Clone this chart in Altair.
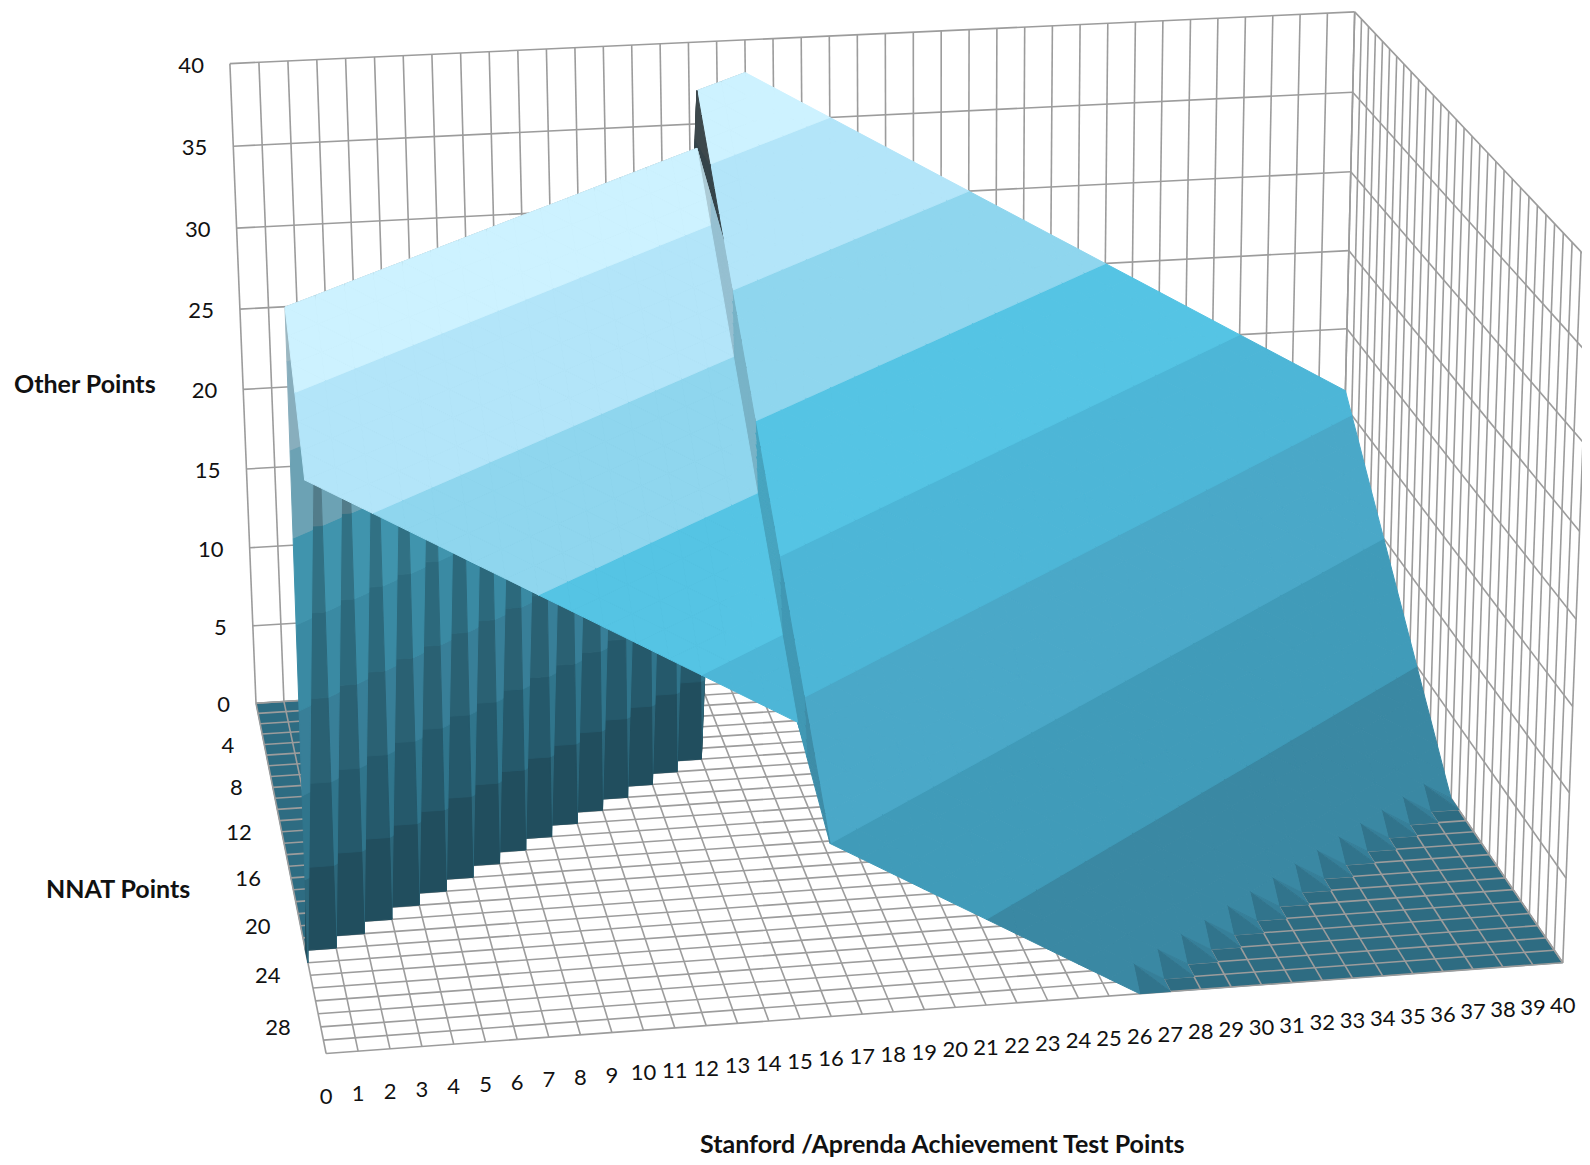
import altair as alt
import numpy as np

# "Other Points": one row per NNAT point (0..30), one column per Stanford point (0..40)
Z_ROWS = [
 [0]*16 + [0,0,38,37,36,35,34,33,32,31,30,29,28,27,26,25,24,23,22,21,20,19,18,17,16],
 [0]*16 + [0,38,37,36,35,34,33,32,31,30,29,28,27,26,25,24,23,22,21,20,19,18,17,16,15],
 [0]*16 + [38,37,36,35,34,33,32,31,30,29,28,27,26,25,24,23,22,21,20,19,18,17,16,15,14],
 [0]*16 + [37,36,35,34,33,32,31,30,29,28,27,26,25,24,23,22,21,20,19,18,17,16,15,14,13],
 [0]*16 + [36,35,34,33,32,31,30,29,28,27,26,25,24,23,22,21,20,19,18,17,16,15,14,13,12],
 [0]*16 + [35,34,33,32,31,30,29,28,27,26,25,24,23,22,21,20,19,18,17,16,15,14,13,12,11],
 [0]*16 + [34,33,32,31,30,29,28,27,26,25,24,23,22,21,20,19,18,17,16,15,14,13,12,11,10],
 [0]*16 + [33,32,31,30,29,28,27,26,25,24,23,22,21,20,19,18,17,16,15,14,13,12,11,10,9],
 [0]*16 + [32,31,30,29,28,27,26,25,24,23,22,21,20,19,18,17,16,15,14,13,12,11,10,9,8],
 [0]*15 + [38] + [31,30,29,28,27,26,25,24,23,22,21,20,19,18,17,16,15,14,13,12,11,10,9,8,7],
 [0]*14 + [38,37] + [30,29,28,27,26,25,24,23,22,21,20,19,18,17,16,15,14,13,12,11,10,9,8,7,6],
 [0]*13 + [38,37,36] + [29,28,27,26,25,24,23,22,21,20,19,18,17,16,15,14,13,12,11,10,9,8,7,6,5],
 [0]*12 + [38,37,36,35] + [28,27,26,25,24,23,22,21,20,19,18,17,16,15,14,13,12,11,10,9,8,7,6,5,4],
 [0]*11 + [38,37,36,35,34] + [27,26,25,24,23,22,21,20,19,18,17,16,15,14,13,12,11,10,9,8,7,6,5,4,3],
 [0]*10 + [38,37,36,35,34,33] + [26,25,24,23,22,21,20,19,18,17,16,15,14,13,12,11,10,9,8,7,6,5,4,3,2],
 [0]*9 + [38,37,36,35,34,33,32] + [25,24,23,22,21,20,19,18,17,16,15,14,13,12,11,10,9,8,7,6,5,4,3,2,1],
 [0]*8 + [38,37,36,35,34,33,32,31] + [24,23,22,21,20,19,18,17,16,15,14,13,12,11,10,9,8,7,6,5,4,3,2,1,0],
 [0]*7 + [38,37,36,35,34,33,32,31,30] + [23,22,21,20,19,18,17,16,15,14,13,12,11,10,9,8,7,6,5,4,3,2,1,0,0],
 [0]*6 + [38,37,36,35,34,33,32,31,30,29] + [22,21,20,19,18,17,16,15,14,13,12,11,10,9,8,7,6,5,4,3,2,1,0,0,0],
 [0]*5 + [38,37,36,35,34,33,32,31,30,29,28] + [21,20,19,18,17,16,15,14,13,12,11,10,9,8,7,6,5,4,3,2,1,0,0,0,0],
 [0]*4 + [38,37,36,35,34,33,32,31,30,29,28,27] + [20,19,18,17,16,15,14,13,12,11,10,9,8,7,6,5,4,3,2,1,0,0,0,0,0],
 [0]*3 + [38,37,36,35,34,33,32,31,30,29,28,27,26] + [19,18,17,16,15,14,13,12,11,10,9,8,7,6,5,4,3,2,1,0,0,0,0,0,0],
 [0]*2 + [38,37,36,35,34,33,32,31,30,29,28,27,26,25] + [18,17,16,15,14,13,12,11,10,9,8,7,6,5,4,3,2,1,0,0,0,0,0,0,0],
 [0]*1 + [38,37,36,35,34,33,32,31,30,29,28,27,26,25,24] + [17,16,15,14,13,12,11,10,9,8,7,6,5,4,3,2,1,0,0,0,0,0,0,0,0],
 [38,37,36,35,34,33,32,31,30,29,28,27,26,25,24,23] + [16,15,14,13,12,11,10,9,8,7,6,5,4,3,2,1,0,0,0,0,0,0,0,0,0],
 [37,36,35,34,33,32,31,30,29,28,27,26,25,24,23,22] + [15,14,13,12,11,10,9,8,7,6,5,4,3,2,1,0,0,0,0,0,0,0,0,0,0],
 [36,35,34,33,32,31,30,29,28,27,26,25,24,23,22,21] + [14,13,12,11,10,9,8,7,6,5,4,3,2,1,0,0,0,0,0,0,0,0,0,0,0],
 [35,34,33,32,31,30,29,28,27,26,25,24,23,22,21,20] + [13,12,11,10,9,8,7,6,5,4,3,2,1,0,0,0,0,0,0,0,0,0,0,0,0],
 [34,33,32,31,30,29,28,27,26,25,24,23,22,21,20,19] + [12,11,10,9,8,7,6,5,4,3,2,1,0,0,0,0,0,0,0,0,0,0,0,0,0],
 [33,32,31,30,29,28,27,26,25,24,23,22,21,20,19,18] + [11,10,9,8,7,6,5,4,3,2,1,0,0,0,0,0,0,0,0,0,0,0,0,0,0],
 [32,31,30,29,28,27,26,25,24,23,22,21,20,19,18,17] + [10,9,8,7,6,5,4,3,2,1,0,0,0,0,0,0,0,0,0,0,0,0,0,0,0],
]
S_TICKS = list(range(0, 41))
N_TICKS = [4, 8, 12, 16, 20, 24, 28]
Z_TICKS = [0, 5, 10, 15, 20, 25, 30, 35, 40]
BAND_COLORS = ["#3A88A3", "#409BB9", "#4AA8C8", "#4DB6D7", "#55C4E4", "#8FD6EE", "#B3E5F9", "#CDF2FF"]
GRID_COLOR = "#9C9C9C"
FONT = "Lato"

# Viewing camera, fitted to where the box corners of (stanford, nnat, other) sit in the picture
ANCHORS = [
 ((0,0,40),(229.3,63.3)), ((0,0,35),(234,147)), ((40,0,40),(1355,11)), ((40,0,35),(1352.7,93.3)),
 ((40,0,30),(1350.7,172.3)), ((40,0,25),(1349.3,250)), ((40,0,20),(1346.7,329.3)), ((0,0,0),(255,702.3)),
 ((0,30,0),(325,1055)), ((40,30,0),(1562.7,962.7)), ((40,30,40),(1589.3,260)), ((40,30,35),(1586.7,352.7)),
 ((0,23,0),(310,961.7)),
]
W, H = 1574, 1149

A_, b_ = [], []
for (X, Y, Z), (u, v) in ANCHORS:
    A_.append([X, Y, Z, 1, 0, 0, 0, 0, -u*X, -u*Y, -u*Z]); b_.append(u)
    A_.append([0, 0, 0, 0, X, Y, Z, 1, -v*X, -v*Y, -v*Z]); b_.append(v)
sol = np.linalg.lstsq(np.array(A_, float), np.array(b_, float), rcond=None)[0]
P = np.append(sol, 1.0).reshape(3, 4)
CAM = np.linalg.solve(P[:, :3], -P[:, 3])


def proj(p):
    h = P @ np.array([p[0], p[1], p[2], 1.0])
    return [round(float(h[0]/h[2]) - 8, 1), round(float(h[1]/h[2]) - 8, 1)]


def poly_feature(pts, fill):
    ring = [proj(p) for p in pts]
    ring.append(ring[0])
    return {"type": "Feature", "properties": {"fill": fill},
            "geometry": {"type": "Polygon", "coordinates": [ring]}}


def line_feature(a, b):
    return {"type": "Feature", "properties": {},
            "geometry": {"type": "LineString", "coordinates": [proj(a), proj(b)]}}


def shade(hex_color, f):
    r, g, b = [int(hex_color[i:i+2], 16) for i in (1, 3, 5)]
    return "#%02X%02X%02X" % (int(min(255, r*f)), int(min(255, g*f)), int(min(255, b*f)))


def factor(tri, s, a_z, c_z):
    a, b, c = [np.array(t, float) for t in tri]
    n = np.cross(b - a, c - a)
    n = n / (np.linalg.norm(n) + 1e-9)
    if n[2] < 0:
        n = -n
    if n[2] > 0.35:
        if abs(n[0] - n[1]) > 0.5:
            return 0.94 if n[0] > n[1] else 0.86
        return 1.0
    if n[0] + n[1] > 0:
        return 0.84
    if s == 15 and a_z == 0 and c_z == 0:
        return 0.3
    if max(abs(n[0]), abs(n[1])) > 0.9:
        return 0.58
    return 0.76


def clip(pts, level, keep_above):
    out = []
    for i in range(len(pts)):
        p, q = pts[i], pts[(i+1) % len(pts)]
        pi = p[2] >= level if keep_above else p[2] <= level
        qi = q[2] >= level if keep_above else q[2] <= level
        if pi:
            out.append(p)
        if pi != qi:
            t = (level - p[2]) / (q[2] - p[2])
            out.append(tuple(p[k] + t*(q[k]-p[k]) for k in range(3)))
    return out


rows, cols = len(Z_ROWS), len(Z_ROWS[0])
floor_feats, surf_feats, grid_feats = [], [], []

for s in S_TICKS:
    grid_feats.append(line_feature((s, 0, 0), (s, 0, 40)))
    grid_feats.append(line_feature((s, 0, 0), (s, 30, 0)))
for n in range(rows):
    grid_feats.append(line_feature((40, n, 0), (40, n, 40)))
    grid_feats.append(line_feature((0, n, 0), (40, n, 0)))
for z in Z_TICKS:
    grid_feats.append(line_feature((0, 0, z), (40, 0, z)))
    grid_feats.append(line_feature((40, 0, z), (40, 30, z)))

cells = [(s, n) for n in range(rows-1) for s in range(cols-1)]
cells.sort(key=lambda c: (-abs(c[1] + .5 - CAM[1]), -abs(c[0] + .5 - CAM[0])))
for s, n in cells:
    a = (s, n, float(Z_ROWS[n][s]))
    b = (s+1, n, float(Z_ROWS[n][s+1]))
    c = (s+1, n+1, float(Z_ROWS[n+1][s+1]))
    d = (s, n+1, float(Z_ROWS[n+1][s]))
    if a[2] == b[2] == c[2] == d[2] == 0:
        floor_feats.append(poly_feature([a, b, c, d], shade(BAND_COLORS[0], 0.8)))
        continue
    if c[2] > max(a[2], b[2], d[2]) + 3 or (a[2] > 0 and b[2] == c[2] == d[2] == 0):
        tris = [(a, b, c), (a, d, c)]
    else:
        tris = [(a, b, d), (b, c, d)]
    tris.sort(key=lambda t: -np.linalg.norm(np.mean(np.array(t), axis=0) - CAM))
    for tri in tris:
        f = factor(tri, s, a[2], d[2])
        for i, col in enumerate(BAND_COLORS):
            lo, hi = i*5, (i+1)*5
            if max(t[2] for t in tri) < lo or min(t[2] for t in tri) > hi:
                continue
            if max(t[2] for t in tri) == 0:
                continue
            piece = clip(clip(list(tri), lo, True), hi, False)
            if len(piece) >= 3:
                surf_feats.append(poly_feature(piece, shade(col, f)))

texts_right = []
for z in Z_TICKS:
    x, y = proj((0, 0, z))
    texts_right.append({"x": x - 26, "y": y + 2, "t": str(z)})
for n in N_TICKS:
    x, y = proj((0, n, 0))
    texts_right.append({"x": x - 30, "y": y + 1, "t": str(n)})
texts_center = []
for s in S_TICKS:
    x, y = proj((s, 30, 0))
    texts_center.append({"x": x, "y": y + 43, "t": str(s)})
titles = [
    {"x": 6, "y": 377, "t": "Other Points"},
    {"x": 38, "y": 882, "t": "NNAT Points"},
    {"x": 692, "y": 1137, "t": "Stanford /Aprenda Achievement Test Points"},
]

PROJ = dict(type="identity", scale=1, translate=[0, 0])


def geo(feats, **kw):
    return alt.Chart(alt.Data(values=feats)).mark_geoshape(**kw).project(**PROJ)


def text(rows_, **kw):
    return alt.Chart(alt.Data(values=rows_)).mark_text(font=FONT, baseline="middle", **kw).encode(
        longitude="x:Q", latitude="y:Q", text="t:N").project(**PROJ)


floor_layer = geo(floor_feats, strokeWidth=0.8).encode(
    fill=alt.Fill("properties.fill:N", scale=None), stroke=alt.Stroke("properties.fill:N", scale=None))
grid_layer = geo(grid_feats, filled=False, stroke=GRID_COLOR, strokeWidth=1.6)
surf_layer = geo(surf_feats, strokeWidth=1).encode(
    fill=alt.Fill("properties.fill:N", scale=None), stroke=alt.Stroke("properties.fill:N", scale=None))

chart = alt.layer(
    floor_layer, grid_layer, surf_layer,
    text(texts_right, align="right", fontSize=22, color="#111111"),
    text(texts_center, align="center", fontSize=22, color="#111111"),
    text(titles, align="left", fontSize=25, fontWeight="bold", color="#111111"),
).properties(width=W, height=H, padding=0, autosize=alt.AutoSizeParams(type="none")
).configure_view(stroke=None)

chart.save("out.html", embed_options={"renderer": "svg", "actions": False})
